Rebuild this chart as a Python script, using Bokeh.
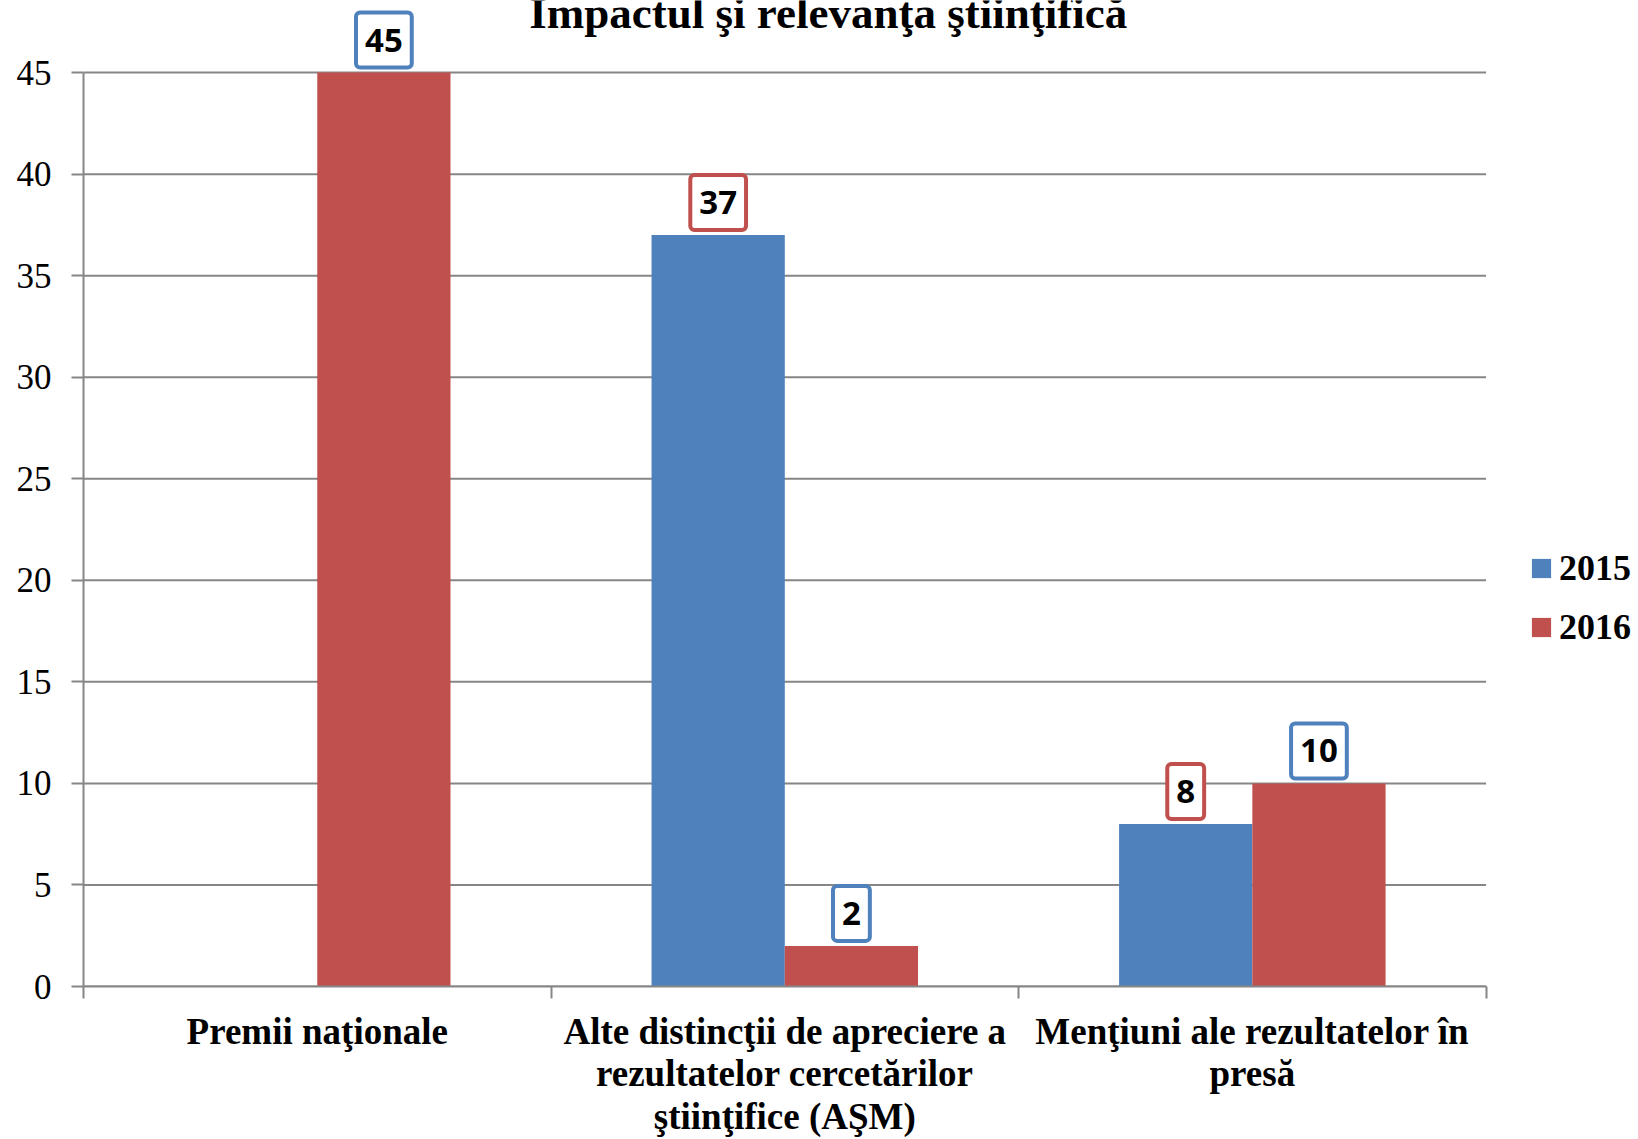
from bokeh.plotting import figure
from bokeh.models import Range1d, FixedTicker, Label, Legend, LegendItem, ColumnDataSource
from bokeh.embed import file_html
from bokeh.resources import INLINE

# ---- data ----
chart_title = "Impactul şi relevanţa ştiinţifică"
categories = [
    "Premii naţionale",
    "Alte distincţii de apreciere a\nrezultatelor cercetărilor\nştiinţifice (AŞM)",
    "Menţiuni ale rezultatelor în\npresă",
]
series_names = ["2015", "2016"]
values_2015 = [0, 37, 8]
values_2016 = [45, 2, 10]
y_ticks = [0, 5, 10, 15, 20, 25, 30, 35, 40, 45]

# ---- style ----
BLUE = "#4F81BD"
RED = "#C0504D"
GRID = "#868686"
BAR_W = 0.285
SERIF = "Liberation Serif"
Y_TOP = 48.55      # headroom above the last tick (title / top value label)
X_RIGHT = 3.326    # room right of the last category (legend)

n = len(categories)
centers = [i + 0.5 for i in range(n)]
bounds = list(range(n + 1))
x2015 = [c - BAR_W / 2 for c in centers]
x2016 = [c + BAR_W / 2 for c in centers]

src15 = ColumnDataSource(dict(x=x2015, top=values_2015))
src16 = ColumnDataSource(dict(x=x2016, top=values_2016))
grid_src = ColumnDataSource(dict(y=y_ticks, x0=[bounds[0]] * len(y_ticks), x1=[bounds[-1]] * len(y_ticks)))

p = figure(
    width=1638, height=1139,
    x_range=Range1d(0, X_RIGHT), y_range=Range1d(y_ticks[0], Y_TOP),
    output_backend="svg", toolbar_location=None,
    min_border_left=83, min_border_right=0, min_border_top=0, min_border_bottom=151,
)
p.outline_line_color = None
p.background_fill_color = "white"

# horizontal gridlines limited to the category area
p.segment(x0="x0", x1="x1", y0="y", y1="y", source=grid_src, line_color=GRID, line_width=2)

r15 = p.vbar(x="x", top="top", width=BAR_W, source=src15, fill_color=BLUE, line_color=None)
r16 = p.vbar(x="x", top="top", width=BAR_W, source=src16, fill_color=RED, line_color=None)

# y axis
p.yaxis.ticker = FixedTicker(ticks=y_ticks)
p.yaxis.bounds = (y_ticks[0], y_ticks[-1])
p.yaxis.major_tick_out = 12
p.yaxis.major_tick_in = 0
p.yaxis.minor_tick_line_color = None
p.yaxis.axis_line_color = GRID
p.yaxis.axis_line_width = 2
p.yaxis.major_tick_line_color = GRID
p.yaxis.major_tick_line_width = 2
p.yaxis.major_label_text_font = SERIF
p.yaxis.major_label_text_font_size = "35px"
p.yaxis.major_label_text_color = "black"
p.yaxis.major_label_standoff = 20

# x axis: labels at category centres, tick marks at category boundaries
p.xaxis.ticker = FixedTicker(ticks=centers, minor_ticks=bounds)
p.xaxis.bounds = (bounds[0], bounds[-1])
p.xaxis.major_label_overrides = {c: name for c, name in zip(centers, categories)}
p.xaxis.major_tick_line_color = None
p.xaxis.major_tick_out = 0
p.xaxis.major_tick_in = 0
p.xaxis.minor_tick_out = 12
p.xaxis.minor_tick_in = 0
p.xaxis.minor_tick_line_color = GRID
p.xaxis.minor_tick_line_width = 2
p.xaxis.axis_line_color = GRID
p.xaxis.axis_line_width = 2
p.xaxis.major_label_standoff = 12
p.xaxis.major_label_text_font = SERIF
p.xaxis.major_label_text_font_style = "bold"
p.xaxis.major_label_text_font_size = "37px"
p.xaxis.major_label_text_line_height = 1.04
p.xaxis.major_label_text_color = "black"

p.xgrid.grid_line_color = None
p.ygrid.grid_line_color = None

# value labels (boxes)
def add_value_labels(xs, vals, border):
    for x, v in zip(xs, vals):
        if v == 0:
            continue
        p.add_layout(Label(
            x=x, y=v, y_offset=5, text=str(v),
            text_align="center", text_baseline="bottom",
            text_font="Open Sans", text_font_style="bold", text_font_size="33px",
            text_color="black",
            background_fill_color="white",
            border_line_color=border, border_line_width=4,
            padding=dict(left=9, right=9, top=16, bottom=16), border_radius=4,
        ))

add_value_labels(x2015, values_2015, RED)
add_value_labels(x2016, values_2016, BLUE)

# title
p.add_layout(Label(
    x=1.593, y=y_ticks[-1], y_offset=60, text=chart_title,
    text_align="center", text_baseline="alphabetic",
    text_font=SERIF, text_font_style="bold", text_font_size="45px", text_color="black",
))

# legend
legend = Legend(
    items=[LegendItem(label=series_names[0], renderers=[r15]),
           LegendItem(label=series_names[1], renderers=[r16])],
    location=(1446, 338),
    padding=0, margin=0, border_line_color=None, background_fill_alpha=0,
    glyph_width=24, glyph_height=24, label_standoff=6, spacing=17, label_height=40,
    label_text_font=SERIF, label_text_font_style="bold", label_text_font_size="36px",
    label_text_color="black",
)
p.add_layout(legend)

open("out.html", "w").write(file_html(p, INLINE))
